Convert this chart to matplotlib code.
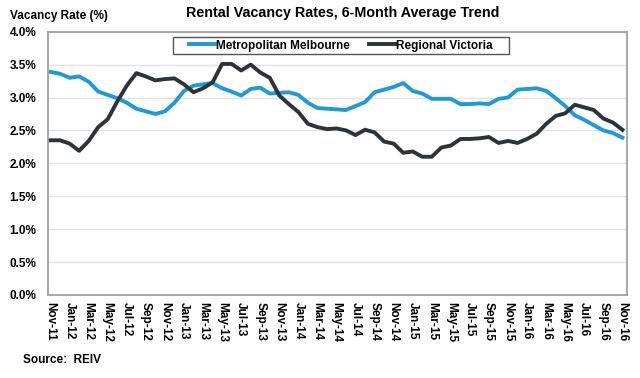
import numpy as np
import matplotlib.pyplot as plt
from matplotlib.patches import Rectangle

plt.rcParams['font.family'] = ['Liberation Sans', 'DejaVu Sans']

# monthly data, Nov-11 .. Nov-16
months = ['Nov', 'Dec', 'Jan', 'Feb', 'Mar', 'Apr', 'May', 'Jun', 'Jul', 'Aug', 'Sep', 'Oct']
labels = []
for i in range(61):
    m = months[i % 12]
    yr = 11 + (i + 10) // 12
    labels.append(f"{m}-{yr}")

metro = [3.39, 3.36, 3.30, 3.32, 3.24, 3.09, 3.04, 2.99, 2.92, 2.83,
         2.79, 2.75, 2.79, 2.92, 3.10, 3.18, 3.20, 3.22, 3.14, 3.09,
         3.03, 3.13, 3.15, 3.06, 3.07, 3.08, 3.04, 2.92, 2.84, 2.83,
         2.82, 2.81, 2.87, 2.93, 3.08, 3.12, 3.16, 3.22, 3.10, 3.06,
         2.98, 2.98, 2.98, 2.90, 2.90, 2.91, 2.90, 2.98, 3.00, 3.12,
         3.13, 3.14, 3.10, 2.99, 2.87, 2.73, 2.66, 2.58, 2.50, 2.46,
         2.39]
regional = [2.35, 2.35, 2.30, 2.19, 2.34, 2.55, 2.67, 2.94, 3.18, 3.37,
            3.32, 3.26, 3.28, 3.29, 3.20, 3.08, 3.14, 3.23, 3.51, 3.51,
            3.41, 3.50, 3.38, 3.30, 3.03, 2.90, 2.78, 2.60, 2.55, 2.52,
            2.53, 2.50, 2.43, 2.51, 2.47, 2.33, 2.30, 2.16, 2.18, 2.10,
            2.10, 2.24, 2.27, 2.37, 2.37, 2.38, 2.40, 2.31, 2.34, 2.31,
            2.37, 2.45, 2.60, 2.72, 2.76, 2.89, 2.85, 2.81, 2.68, 2.62,
            2.51]

x = np.arange(len(labels))

fig = plt.figure(figsize=(6.4, 3.78), dpi=100)
ax = fig.add_axes([0.0745, 0.2196, 0.9055, 0.6966])

ax.plot(x, metro, color='#1f9ad6', lw=2.8, label='Metropolitan Melbourne')
ax.plot(x, regional, color='#2e3339', lw=2.8, label='Regional Victoria')

ax.set_xlim(-0.3, 60.5)
ax.set_ylim(0, 4.0)
yt = np.arange(0, 4.01, 0.5)
ax.set_yticks(yt)
ax.set_yticklabels([f"{v:.1f}%" for v in yt])
ax.set_xticks(x[::2])
ax.set_xticklabels(labels[::2], rotation=270)
ax.tick_params(length=0, labelsize=8.5)
ax.tick_params(axis='x', pad=5)
ax.tick_params(axis='y', pad=8)
for t in ax.get_xticklabels() + ax.get_yticklabels():
    t.set_fontweight('bold')
ax.yaxis.grid(True, color='#e3e3e3', lw=1)
ax.set_axisbelow(True)
for s in ax.spines.values():
    s.set_color('#9a9a9a')
    s.set_linewidth(1.2)

# legend without frame, box drawn separately (wider side padding)
leg = ax.legend(loc='center', bbox_to_anchor=(341 / 640, 1 - 45.5 / 378),
                bbox_transform=fig.transFigure, ncol=2, frameon=False,
                handlelength=2.2, handletextpad=0.1, columnspacing=1.6,
                prop={'weight': 'bold', 'size': 8.5})
box = Rectangle((173 / 640, 1 - 54 / 378), 336 / 640, 17 / 378,
                transform=fig.transFigure, facecolor='white',
                edgecolor='#555555', lw=1.0, zorder=4, clip_on=False)
ax.add_patch(box)
leg.set_zorder(6)

fig.text(0.016, 0.958, 'Vacancy Rate (%)', fontsize=8.5, fontweight='bold', va='center')
fig.text(0.536, 0.965, 'Rental Vacancy Rates, 6-Month Average Trend', fontsize=10.3,
         fontweight='bold', ha='center', va='center')
fig.text(0.036, 0.048, 'Source:  REIV', fontsize=8.5, fontweight='bold', va='center')

fig.savefig('out.png', dpi=100)
